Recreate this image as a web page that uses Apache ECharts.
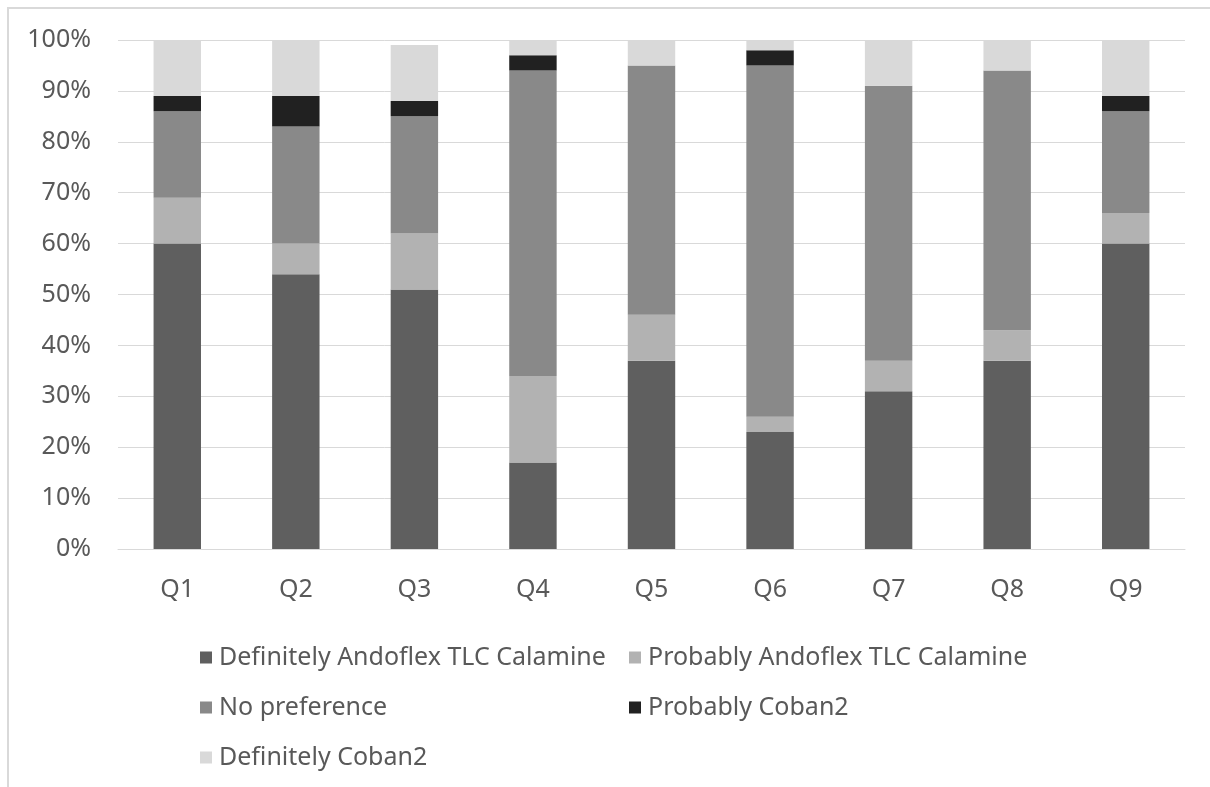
<!DOCTYPE html>
<html>
<head>
<meta charset="utf-8">
<script src="https://cdn.jsdelivr.net/npm/echarts@6/dist/echarts.min.js"></script>
<style>
  html, body { margin: 0; padding: 0; background: #ffffff; }
  #chart { width: 1210px; height: 787px; }
</style>
</head>
<body>
<div id="chart"></div>
<script>
// Survey questions and response shares (percent of respondents)
const questions = ['Q1', 'Q2', 'Q3', 'Q4', 'Q5', 'Q6', 'Q7', 'Q8', 'Q9'];
const definitelyAndoflex = [60, 54, 51, 17, 37, 23, 31, 37, 60];
const probablyAndoflex   = [9, 6, 11, 17, 9, 3, 6, 6, 6];
const noPreference       = [17, 23, 23, 60, 49, 69, 54, 51, 20];
const probablyCoban      = [3, 6, 3, 3, 0, 3, 0, 0, 3];
const definitelyCoban    = [11, 11, 11, 3, 5, 2, 9, 6, 11];

const seriesNames = [
  'Definitely Andoflex TLC Calamine',
  'Probably Andoflex TLC Calamine',
  'No preference',
  'Probably Coban2',
  'Definitely Coban2'
];
const seriesValues = [definitelyAndoflex, probablyAndoflex, noPreference, probablyCoban, definitelyCoban];
const seriesColors = ['#5f5f5f', '#b2b2b2', '#898989', '#212121', '#d9d9d9'];

const FONT = 'Noto Sans';
const TEXT = '#595959';
const FONT_SIZE = 25;

// one legend per entry so the two-column layout can be placed exactly
const legendSpots = [
  { left: 195, top: 640 },
  { left: 624, top: 640 },
  { left: 195, top: 690 },
  { left: 624, top: 690 },
  { left: 195, top: 740 }
];
const legends = seriesNames.map((name, i) => ({
  data: [name],
  left: legendSpots[i].left,
  top: legendSpots[i].top,
  icon: 'rect',
  itemWidth: 12,
  itemHeight: 12,
  selectedMode: false,
  textStyle: { fontFamily: FONT, fontSize: FONT_SIZE, color: TEXT, padding: [0, 0, 0, 2] }
}));

const chart = echarts.init(document.getElementById('chart'), null, { renderer: 'canvas' });
chart.setOption({
  animation: false,
  backgroundColor: '#ffffff',
  graphic: [{
    type: 'rect',
    shape: { x: 8, y: 8, width: 1400, height: 1000 },
    style: { fill: 'none', stroke: '#d9d9d9', lineWidth: 2 },
    silent: true
  }],
  legend: legends,
  grid: { left: 118, right: 25, top: 40, bottom: 238 },
  xAxis: {
    type: 'category',
    data: questions,
    axisLine: { show: true, lineStyle: { color: '#d9d9d9', width: 1 } },
    axisTick: { show: false },
    axisLabel: { fontFamily: FONT, fontSize: FONT_SIZE, color: TEXT, margin: 28 }
  },
  yAxis: {
    type: 'value',
    min: 0,
    max: 100,
    interval: 10,
    axisLine: { show: false },
    axisTick: { show: false },
    splitLine: { lineStyle: { color: '#d9d9d9', width: 1 } },
    axisLabel: { fontFamily: FONT, fontSize: FONT_SIZE, color: TEXT, margin: 27, formatter: '{value}%' }
  },
  series: seriesNames.map((name, i) => ({
    name: name,
    type: 'bar',
    stack: 'total',
    barWidth: '40%',
    data: seriesValues[i],
    itemStyle: { color: seriesColors[i] }
  }))
});
</script>
</body>
</html>
